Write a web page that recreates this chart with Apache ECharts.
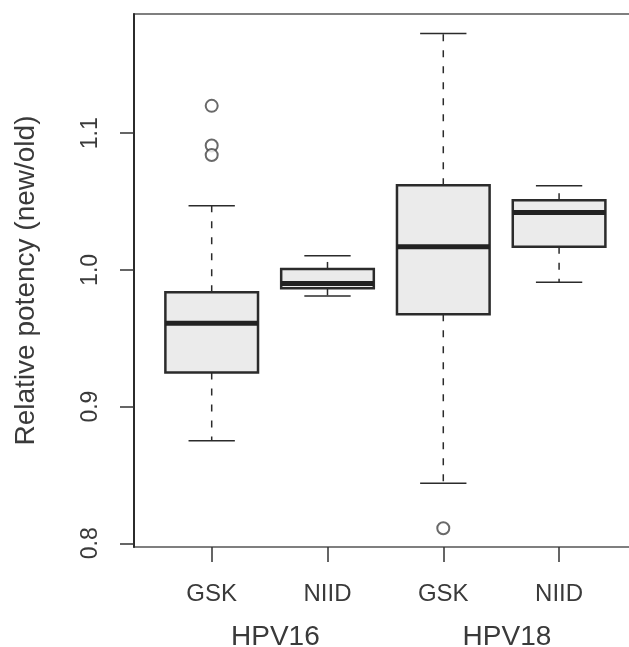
<!DOCTYPE html>
<html>
<head>
<meta charset="utf-8">
<script src="https://cdn.jsdelivr.net/npm/echarts@6/dist/echarts.min.js"></script>
<style>
  html, body { margin: 0; padding: 0; background: #fff; }
  #main { width: 629px; height: 647px; }
</style>
</head>
<body>
<div id="main"></div>
<script>
// 组别与类别
const groups = ['HPV16', 'HPV18'];
const labs = ['GSK', 'NIID', 'GSK', 'NIID'];
const positions = [1, 2, 3, 4];
const groupPos = [1.55, 3.55];

// 箱线图数值: 下须, Q1, 中位数, Q3, 上须
const whiskerLow = [0.875, 0.981, 0.844, 0.991];
const q1 = [0.925, 0.9865, 0.9675, 1.017];
const median = [0.961, 0.990, 1.017, 1.042];
const q3 = [0.9836, 1.0007, 1.062, 1.051];
const whiskerHigh = [1.047, 1.0104, 1.173, 1.0616];

// 离群点
const outlierX = [1, 1, 1, 3];
const outlierY = [1.12, 1.091, 1.084, 0.811];

const yTicks = [0.8, 0.9, 1.0, 1.1];

const boxData = positions.map((p, i) => [p, whiskerLow[i], q1[i], median[i], q3[i], whiskerHigh[i]]);
const outlierData = outlierX.map((x, i) => [x, outlierY[i]]);

const chart = echarts.init(document.getElementById('main'));

function renderBox(params, api) {
  const x = api.value(0);
  const pLow = api.coord([x, api.value(1)]);
  const pQ1 = api.coord([x, api.value(2)]);
  const pMed = api.coord([x, api.value(3)]);
  const pQ3 = api.coord([x, api.value(4)]);
  const pHigh = api.coord([x, api.value(5)]);
  const w = api.size([0.8, 0])[0];
  const cx = pMed[0];
  const lineCol = '#2b2b2b';
  return {
    type: 'group',
    children: [
      { type: 'line', shape: { x1: cx, y1: pQ3[1], x2: cx, y2: pHigh[1] },
        style: { stroke: lineCol, lineWidth: 1.5, lineDash: [7, 9] } },
      { type: 'line', shape: { x1: cx, y1: pQ1[1], x2: cx, y2: pLow[1] },
        style: { stroke: lineCol, lineWidth: 1.5, lineDash: [7, 9] } },
      { type: 'line', shape: { x1: cx - w / 4, y1: pHigh[1], x2: cx + w / 4, y2: pHigh[1] },
        style: { stroke: lineCol, lineWidth: 1.5 } },
      { type: 'line', shape: { x1: cx - w / 4, y1: pLow[1], x2: cx + w / 4, y2: pLow[1] },
        style: { stroke: lineCol, lineWidth: 1.5 } },
      { type: 'rect', shape: { x: cx - w / 2, y: pQ3[1], width: w, height: pQ1[1] - pQ3[1] },
        style: { fill: '#ebebeb', stroke: lineCol, lineWidth: 2.5 } },
      { type: 'line', shape: { x1: cx - w / 2, y1: pMed[1], x2: cx + w / 2, y2: pMed[1] },
        style: { stroke: '#222', lineWidth: 5 } }
    ]
  };
}

const option = {
  animation: false,
  backgroundColor: '#fff',
  grid: {
    left: 134,
    right: -5,
    top: 14,
    bottom: 100,
    outerBoundsMode: 'none',
    show: true,
    borderColor: '#555',
    borderWidth: 1.5
  },
  xAxis: [{
    type: 'value',
    min: 0.329,
    max: 4.647,
    splitLine: { show: false },
    axisLine: { show: false },
    axisTick: {
      show: true,
      length: 15,
      customValues: positions,
      lineStyle: { color: '#333', width: 1.5 }
    },
    axisLabel: {
      customValues: positions,
      margin: 35,
      fontFamily: 'Liberation Sans',
      fontSize: 24,
      color: '#3a3a3a',
      formatter: v => labs[Math.round(v) - 1]
    }
  }, {
    type: 'value',
    position: 'bottom',
    min: 0.329,
    max: 4.647,
    splitLine: { show: false },
    axisLine: { show: false },
    axisTick: { show: false },
    axisLabel: {
      customValues: groupPos,
      margin: 76,
      fontFamily: 'Liberation Sans',
      fontSize: 28,
      color: '#3a3a3a',
      formatter: v => groups[v < 2.5 ? 0 : 1]
    }
  }],
  yAxis: {
    type: 'value',
    min: 0.7973,
    max: 1.1872,
    name: 'Relative potency (new/old)',
    nameLocation: 'middle',
    nameRotate: 90,
    nameGap: 94,
    nameTextStyle: { fontFamily: 'Liberation Sans', fontSize: 28, color: '#3a3a3a' },
    splitLine: { show: false },
    axisLine: { show: true, lineStyle: { color: '#2b2b2b', width: 2 } },
    axisTick: {
      show: true,
      length: 14,
      customValues: yTicks,
      lineStyle: { color: '#333', width: 1.5 }
    },
    axisLabel: {
      customValues: yTicks,
      rotate: 90,
      margin: 32,
      fontFamily: 'Liberation Sans',
      fontSize: 23,
      color: '#3a3a3a',
      formatter: v => v.toFixed(1)
    }
  },
  series: [{
    type: 'custom',
    renderItem: renderBox,
    data: boxData,
    encode: { x: 0, y: [1, 2, 3, 4, 5] }
  }, {
    type: 'scatter',
    symbol: 'emptyCircle',
    symbolSize: 12,
    itemStyle: { color: '#444', borderWidth: 1.3 },
    data: outlierData
  }]
};

chart.setOption(option);
</script>
</body>
</html>
